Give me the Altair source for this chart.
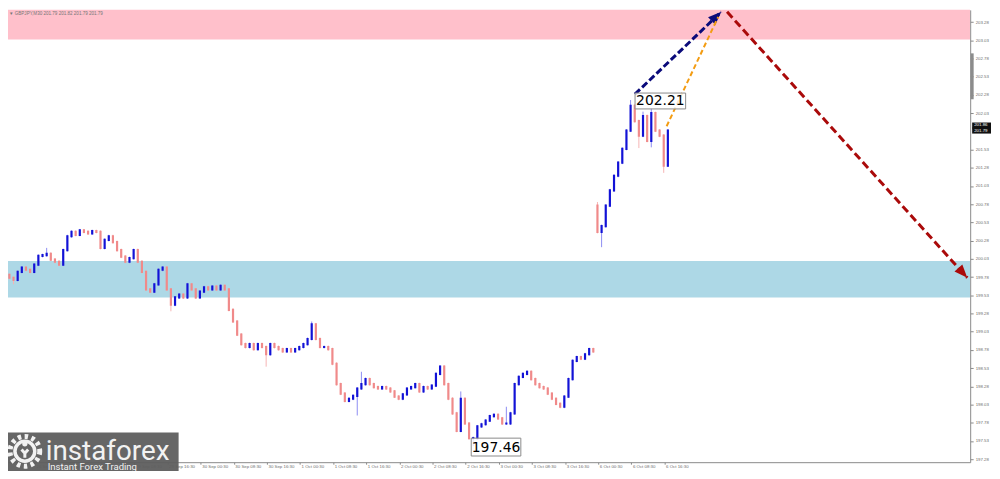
import json
import math
import altair as alt
import pandas as pd

# ---------------- data ----------------
title_text = "\u25bc GBPJPY,M30  201.79 201.82 201.79 201.79"
time_labels = ["26 Sep 00:30", "26 Sep 08:30", "26 Sep 16:30", "29 Sep 00:30", "29 Sep 08:30",
               "29 Sep 16:30", "30 Sep 00:30", "30 Sep 08:30", "30 Sep 16:30", "1 Oct 00:30",
               "1 Oct 08:30", "1 Oct 16:30", "2 Oct 00:30", "2 Oct 08:30", "2 Oct 16:30",
               "3 Oct 00:30", "3 Oct 08:30", "3 Oct 16:30", "6 Oct 00:30", "6 Oct 08:30",
               "6 Oct 16:30"]
label_step = 16  # M30 bars between time labels
price_ticks = [197.28, 197.53, 197.78, 198.03, 198.28, 198.53, 198.78, 199.03, 199.28, 199.53,
               199.78, 200.03, 200.28, 200.53, 200.78, 201.03, 201.28, 201.53, 202.03, 202.28,
               202.53, 202.78, 203.03, 203.28]

# hourly candles (two M30 bars each): closes
closes = [
    199.85, 199.81, 199.77, 199.74, 199.85, 199.91, 199.88, 199.85, 199.95, 200.07,
    200.08, 200.10, 200.02, 199.99, 199.95, 200.15, 200.34, 200.40, 200.36, 200.42,
    200.40, 200.38, 200.41, 200.40, 200.18, 200.29, 200.34, 200.26, 200.15, 200.06,
    199.99, 200.04, 200.15, 199.99, 199.85, 199.61, 199.58, 199.68, 199.88, 199.91,
    199.61, 199.40, 199.50, 199.54, 199.50, 199.68, 199.61, 199.50, 199.58, 199.64,
    199.61, 199.65, 199.61, 199.66, 199.61, 199.33, 199.17, 198.99, 198.86, 198.82,
    198.86, 198.79, 198.86, 198.82, 198.72, 198.86, 198.82, 198.79, 198.76, 198.79,
    198.76, 198.79, 198.82, 198.86, 198.93, 199.13, 198.93, 198.82, 198.82, 198.79,
    198.59, 198.31, 198.18, 198.08, 198.11, 198.15, 198.25, 198.31, 198.38, 198.31,
    198.27, 198.25, 198.27, 198.25, 198.21, 198.14, 198.11, 198.17, 198.25, 198.27,
    198.31, 198.21, 198.27, 198.25, 198.29, 198.45, 198.55, 198.31, 198.11, 197.91,
    197.67, 198.11, 197.77, 197.57, 197.57, 197.73, 197.76, 197.81, 197.87, 197.89,
    197.84, 197.77, 197.77, 197.91, 198.31, 198.41, 198.45, 198.48, 198.38, 198.31,
    198.27, 198.25, 198.18, 198.11, 198.04, 198.00, 198.14, 198.38, 198.63, 198.68,
    198.66, 198.72, 198.79, 198.76,
    200.40, 200.48, 200.76, 200.97, 201.17, 201.35, 201.54, 201.79, 202.13, 201.92,
    201.72, 201.99, 201.65, 202.03, 201.79, 201.72, 201.31, 201.79,
]
first_open = 199.88
gap_index = 144          # first candle after the weekend gap
gap_open = 200.76
high_spikes = {11: 200.18, 75: 199.17, 87: 198.48, 106: 198.57, 111: 198.21, 122: 198.00,
               144: 200.81, 152: 202.21, 155: 202.05, 157: 202.10}
low_spikes = {3: 199.68, 41: 199.31, 64: 198.55, 86: 197.88, 114: 197.46, 145: 200.19,
              154: 201.55, 157: 201.56, 160: 201.21}
WICK = 0.02

# zones
zones = pd.DataFrame({"lo": [203.04, 199.50], "hi": [203.60, 200.00],
                      "color": ["#ffc0cb", "#add8e6"]})
# forecast arrows (bar index, price)
arrows = {
    "navy": ([305.7, 347.4], [202.29, 203.42]),
    "orange": ([321.0, 345.9], [201.85, 203.35]),
    "red": ([350.2, 466.2], [203.42, 199.77]),
}
peak_label = 202.21
low_label = 197.46
current_prices = [201.86, 201.79]
brand = "instaforex"
slogan = "Instant Forex Trading"

# ---------------- build ----------------
opens = [first_open] + closes[:-1]
opens[gap_index] = gap_open
rows = []
for k, (o, c) in enumerate(zip(opens, closes)):
    rows.append(dict(i=2 * k - 0.4, open=o, close=c,
                     high=high_spikes.get(k, max(o, c) + WICK),
                     low=low_spikes.get(k, min(o, c) - WICK)))
candles = pd.DataFrame(rows)

W, H = 970, 456
XD = [2.93, 467.6]
YD = [197.239, 203.447]
PX_I = W / (XD[1] - XD[0])
PX_P = H / (YD[1] - YD[0])

AX_COL = "#8a8a8a"
LAB_COL = "#6e6e6e"
FONT = "Liberation Sans"

x_axis = alt.Axis(values=[label_step * m for m in range(1, len(time_labels))],
                  labelExpr=json.dumps(time_labels) + "[datum.value/" + str(label_step) + "]",
                  labelAlign="left", labelBaseline="top", labelFontSize=4.4, labelFont=FONT,
                  labelColor=LAB_COL, labelPadding=0, labelOffset=1, tickSize=2,
                  tickColor=AX_COL, domainColor=AX_COL, grid=False, title=None,
                  labelOverlap=False, labelFlush=False, labelBound=False, zindex=0)
y_axis = alt.Axis(orient="right", values=price_ticks, format=".2f", labelFontSize=4.4,
                  labelFont=FONT, labelColor=LAB_COL, labelPadding=2, tickSize=3,
                  tickColor=AX_COL, domainColor=AX_COL, grid=False, title=None,
                  labelOverlap=False, labelFlush=False, labelBound=False)
XS = alt.Scale(domain=XD, nice=False, zero=False)
YS = alt.Scale(domain=YD, nice=False, zero=False)


def X(f):
    return alt.X(f, type="quantitative", scale=XS, axis=x_axis)


def Y(f):
    return alt.Y(f, type="quantitative", scale=YS, axis=y_axis)


layers = []

# zones
layers.append(alt.Chart(zones).mark_rect(clip=True).encode(
    x=alt.value(0), x2=alt.value(W), y=Y("lo"), y2="hi",
    color=alt.Color("color:N", scale=None)))

up = "datum.close >= datum.open"
base = alt.Chart(candles)
layers.append(base.mark_rule(strokeWidth=1, clip=True).encode(
    x=X("i"), y=Y("low"), y2="high",
    color=alt.condition(up, alt.value("#8c8cf2"), alt.value("#f6b4b4"))))
layers.append(base.mark_rule(strokeWidth=2.2, strokeCap="square", clip=True).encode(
    x=X("i"), y=Y("open"), y2="close",
    color=alt.condition(up, alt.value("#1212d6"), alt.value("#f08a8a"))))

# arrows
styles = {"navy": ("#0a0a7a", 3, [7, 3]), "orange": ("#f39c12", 2, [5, 3]),
          "red": ("#aa0a0a", 3, [8, 4])}
for name, (xs, ps) in arrows.items():
    col, sw, dash = styles[name]
    df = pd.DataFrame({"i": xs, "price": ps, "o": [0, 1]})
    layers.append(alt.Chart(df).mark_line(color=col, strokeWidth=sw, strokeDash=dash,
                                          clip=False).encode(
        x=X("i"), y=Y("price"), order="o:Q"))
    if name != "orange":
        dx = (xs[1] - xs[0]) * PX_I
        dy = -(ps[1] - ps[0]) * PX_P
        ln = math.hypot(dx, dy)
        ux, uy = dx / ln, dy / ln
        ang = math.degrees(math.atan2(dx, -dy)) % 360
        back = 7
        hd = pd.DataFrame({"i": [xs[1] - back * ux / PX_I], "price": [ps[1] + back * uy / PX_P]})
        layers.append(alt.Chart(hd).mark_point(
            shape="M0,-1L0.75,0.9L-0.75,0.9Z", filled=True, opacity=1, color=col,
            size=200, angle=ang, clip=False).encode(x=X("i"), y=Y("price")))

# extreme labels
pk = candles.loc[candles["high"].idxmax()]
lw = candles.loc[candles["low"].idxmin()]
pk_df = pd.DataFrame({"i": [pk["i"]], "price": [peak_label], "t": [f"{peak_label:.2f}"]})
lw_df = pd.DataFrame({"i": [lw["i"]], "price": [low_label], "t": [f"{low_label:.2f}"]})
layers.append(alt.Chart(pk_df).mark_rect(fill="white", fillOpacity=0.8, stroke="#8a8a8a",
                                         strokeWidth=1, xOffset=4.5, x2Offset=55.5,
                                         yOffset=-7, y2Offset=9).encode(
    x=X("i"), x2="i", y=Y("price"), y2="price"))
layers.append(alt.Chart(pk_df).mark_text(font="DejaVu Sans", fontSize=14, color="#000",
                                         dx=30, dy=1.5, align="center",
                                         baseline="middle").encode(
    x=X("i"), y=Y("price"), text="t:N"))
layers.append(alt.Chart(lw_df).mark_rect(fill="white", fillOpacity=0.8, stroke="#8a8a8a",
                                         strokeWidth=1, xOffset=-2, x2Offset=48,
                                         yOffset=-8, y2Offset=10).encode(
    x=X("i"), x2="i", y=Y("price"), y2="price"))
layers.append(alt.Chart(lw_df).mark_text(font="DejaVu Sans", fontSize=14, color="#000",
                                         dx=23, dy=1.5, align="center",
                                         baseline="middle").encode(
    x=X("i"), y=Y("price"), text="t:N"))

# right-axis artifacts: scroll marker and current price boxes
sb = pd.DataFrame({"a": [202.85], "b": [202.22]})
layers.append(alt.Chart(sb).mark_rule(color="#8c8c8c", strokeWidth=3, clip=False).encode(
    x=alt.value(W + 2), y=Y("a"), y2="b"))
cp = pd.DataFrame({"price": current_prices, "t": [f"{v:.2f}" for v in current_prices]})
layers.append(alt.Chart(cp).mark_rect(color="#111", yOffset=-3, y2Offset=3, clip=False).encode(
    x=alt.value(W + 2), x2=alt.value(W + 21), y=Y("price"), y2="price"))
layers.append(alt.Chart(cp).mark_text(color="white", fontSize=4.4, font=FONT, align="left",
                                      baseline="middle", clip=False).encode(
    x=alt.value(W + 4), y=Y("price"), text="t:N"))

# title
one = pd.DataFrame({"t": [title_text]})
layers.append(alt.Chart(one).mark_text(fontSize=4.6, font=FONT, color="#777", align="left",
                                       baseline="top").encode(
    x=alt.value(1), y=alt.value(1), text="t:N"))

# logo (decoration, pixel placed)
logo = pd.DataFrame({"a": [brand], "b": [slogan]})
lc = "#f2f2f2"
layers.append(alt.Chart(logo).mark_rect(color="#5e5e5e", opacity=0.95, clip=False).encode(
    x=alt.value(-8), x2=alt.value(172), y=alt.value(426), y2=alt.value(475)))
# cog ring with teeth
layers.append(alt.Chart(logo).mark_point(shape="circle", filled=False, color=lc,
                                         strokeWidth=3.5, size=400, opacity=1,
                                         clip=False).encode(
    x=alt.value(17), y=alt.value(445)))
layers.append(alt.Chart(logo).mark_point(shape="circle", filled=False, color=lc,
                                         strokeWidth=5, size=900, opacity=1,
                                         strokeDash=[3.5, 3.5], clip=False).encode(
    x=alt.value(17), y=alt.value(445)))
layers.append(alt.Chart(logo).mark_point(shape="circle", filled=True, color=lc, size=28,
                                         opacity=1, clip=False).encode(
    x=alt.value(17), y=alt.value(437.5)))
layers.append(alt.Chart(logo).mark_point(shape="M-0.8,-0.9L0,0L0.8,-0.9M0,0L0,1.1",
                                         filled=False, color=lc, strokeWidth=3, size=70,
                                         opacity=1, clip=False).encode(
    x=alt.value(17), y=alt.value(447)))
layers.append(alt.Chart(logo).mark_text(font="Roboto", fontSize=28, color=lc,
                                        align="left", baseline="alphabetic").encode(
    x=alt.value(38), y=alt.value(454), text="a:N"))
layers.append(alt.Chart(logo).mark_text(font="Roboto", fontSize=9.6, color=lc,
                                        align="left", baseline="alphabetic").encode(
    x=alt.value(40), y=alt.value(464), text="b:N"))

chart = alt.layer(*layers).properties(
    width=W, height=H,
    autosize=alt.AutoSizeParams(type="none"),
    padding={"left": 0, "top": 0, "right": 22, "bottom": 7},
    background="white",
).configure_view(stroke=None)

chart.save("out.html", embed_options={"renderer": "svg", "actions": False})
